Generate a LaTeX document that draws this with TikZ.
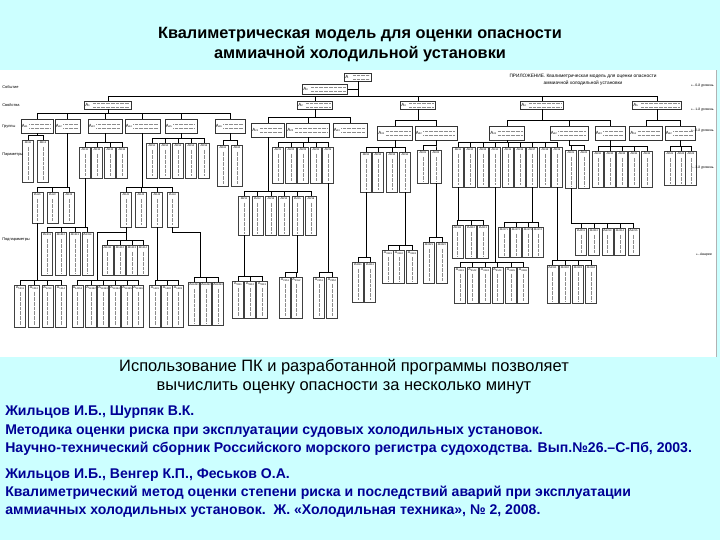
\documentclass[tikz,border=0pt]{standalone}
\usepackage{fontspec}
\setmainfont{Liberation Sans}
\usepackage{tikz}
\usetikzlibrary{calc,positioning}
\definecolor{slidecyan}{RGB}{204,255,255}
\definecolor{refblue}{RGB}{0,0,150}

\newcommand{\lowidx}[1]{\raisebox{-0.35pt}{\fontsize{1.8}{2}\selectfont#1}}
\newcommand{\smallarrow}{\scalebox{0.45}{$\leftarrow$}}

\tikzset{
  wire/.style={line width=0.6pt},
  bus/.style={to path={|- ($(\tikztotarget)+(0,-#1)$) -- (\tikztotarget)}},
  bus/.default=5,
  midbox/.style={draw=black!80,line width=0.3pt,fill=white,minimum height=14*0.025cm,
    path picture={\foreach \k in {-1.4,1.4}{\draw[black!45,line width=0.4pt,dash pattern=on 0.5pt off 0.4pt]
      ([xshift=6pt,yshift=\k pt]path picture bounding box.west) -- ([xshift=-1.5pt,yshift=\k pt]path picture bounding box.east);}}},
  midlbl/.style={anchor=west,inner sep=0.6pt,font=\fontsize{3.2}{3.5}\selectfont},
  leaf/.style={draw=black!75,line width=0.3pt,fill=white,anchor=north,minimum width=0.27cm,
    path picture={\draw[black!45,line width=0.4pt,dash pattern=on 0.5pt off 0.4pt]
      ([yshift=-4.5pt]path picture bounding box.north) -- ([yshift=1.5pt]path picture bounding box.south);}},
  leaflbl/.style={anchor=north,inner sep=0.5pt,font=\fontsize{2.6}{3}\selectfont},
  lvl/.style={font=\fontsize{2.8}{3.2}\selectfont},
  rlvl/.style={font=\fontsize{2.4}{3}\selectfont,anchor=east},
  refs/.style={font=\bfseries\fontsize{10}{13.1}\selectfont,text=refblue,align=left,anchor=west}
}

% box of the second level: digits, x, y, width
\newcommand{\midbox}[4]{%
  \node[midbox,minimum width=#4*0.025cm,label={[midlbl]west:A\lowidx{#1}}] (a#1) at (#2,#3) {};}
% row of leaf boxes: digits, parent, top, height, x list
\newcommand{\leafrow}[5]{%
  \foreach \x [count=\i] in {#5}{%
    \node[leaf,minimum height=#4*0.025cm,label={[leaflbl]north:A\lowidx{#1\i}}] (a#1\i) at (\x,#3) {};
    \draw[wire] (#2) to[bus] (a#1\i.north);
  }}

\begin{document}
\begin{tikzpicture}[x=0.025cm,y=-0.025cm,every node/.style={inner sep=0pt}]
\useasboundingbox (0,0) rectangle (720,540);
\fill[slidecyan] (0,0) rectangle (720,540);
\fill[white] (0,70) rectangle (716,357);
\draw[black!30,line width=0.4pt] (716,70) -- (716,357);

\node[font=\bfseries\fontsize{11.6}{14.2}\selectfont,align=center] (title) at (360,45)
  {Квалиметрическая модель для оценки опасности\\аммиачной холодильной установки};

% top of the tree
\node[midbox,minimum width=27*0.025cm,minimum height=8*0.025cm,label={[midlbl]west:A}] (root) at (358,77) {};
\node[midbox,minimum width=45*0.025cm,minimum height=10*0.025cm,label={[midlbl]west:A\lowidx{0}}] (a0) at (325,89) {};
\draw[wire] (a0.east) -- (a0.east -| root.south);
\node[font=\fontsize{3.4}{4.6}\selectfont,align=center] (hdr) at (583,80)
  {ПРИЛОЖЕНИЕ. Квалиметрическая модель для оценки опасности\\аммиачной холодильной установки};

% first level
\foreach \k/\x/\w in {1/108/47,2/315/35,3/418/35,4/542/43,5/657/49}{
  \node[midbox,minimum width=\w*0.025cm,minimum height=8*0.025cm,label={[midlbl]west:A\lowidx{\k}}] (a\k) at (\x,105) {};
  \draw[wire] (root.south) to[bus=4] (a\k.north);
}

% second level
\midbox{11}{37}{126}{32}
\midbox{12}{67.5}{126}{25}
\midbox{13}{105}{126}{34}
\midbox{14}{142.5}{126}{35}
\midbox{15}{181}{126}{32}
\midbox{16}{230}{126}{30}
\midbox{21}{268}{130}{33}
\midbox{22}{308}{130}{43}
\midbox{23}{350}{130}{34}
\midbox{31}{395}{133}{35}
\midbox{32}{436}{133}{42}
\midbox{41}{507}{133}{35}
\midbox{42}{569}{133}{38}
\midbox{43}{610}{133}{30}
\midbox{51}{646}{133}{33}
\midbox{52}{680}{133}{30}
\foreach \p/\c in {1/11,1/12,1/13,1/14,1/15,1/16,2/21,2/22,2/23,3/31,3/32,4/41,4/42,4/43,5/51,5/52}
  \draw[wire] (a\p.south) to[bus] (a\c.north);

% third level
\leafrow{11}{a11.south}{140}{42}{28,43}
\leafrow{13}{a13.south}{147}{31}{85,97,110,122}
\leafrow{15}{a15.south}{143}{35}{152,165,178,191,204}
\leafrow{16}{a16.south}{145}{41}{223,237}
\leafrow{22}{a22.south}{147}{36}{278,291,303,316,328}
\leafrow{31}{a31.south}{152}{40}{366,378,392,405}
\leafrow{32}{a32.south}{150}{33}{423,436}
\leafrow{41}{a41.south}{147}{40}{458,470,483,495,508,520,532,545,557}
\leafrow{42}{a42.south}{150}{38}{571,584}
\leafrow{43}{a43.south}{151}{36}{598,610,622,634,647}
\leafrow{52}{a52.south}{151}{34}{670,681,691}

% fourth level
\leafrow{12}{a12.south}{192}{31}{37.5,52.5,69}
\leafrow{14}{a14.south}{192}{35}{126,141,157,172.5}
\leafrow{131}{a131.south}{232}{43}{47,61,75,87.5}
\leafrow{21}{a21.south}{196}{39}{244,257.5,271,284,297.5,311}
\leafrow{311}{a311.south}{262}{40}{358,370}
\leafrow{314}{a314.south}{250}{33}{388,399,412}
\leafrow{322}{a322.south}{242}{41}{429,442}
\leafrow{411}{a411.south}{225}{33}{457.5,471,483}
\leafrow{417}{a417.south}{227}{30}{504,516,528,538}
\leafrow{414}{a414.south}{267}{36}{460,472.5,485,497.5,511,523}
\leafrow{419}{a419.south}{265}{38}{552.5,565,578,591}
\leafrow{421}{a421.south}{228}{27}{581,594,607.5,620,633.5}

% fifth level
\leafrow{121}{a121.south}{285}{42}{20,34,47.5,61}
\leafrow{141}{a141.south}{245}{30}{107.5,120,132,143}
\coordinate (k1) at (97,232);
\draw[wire] (a141.south) |- (k1);
\leafrow{1415}{k1}{285}{42}{77.5,91,103,115,127,138}
\leafrow{143}{a143.south}{285}{42}{155,167,178}
\coordinate (k2) at (200,232);
\draw[wire] (a144.south) |- (k2);
\leafrow{1445}{k2}{282}{43}{194,206,218}
\leafrow{211}{a211.south}{281}{37}{238,250,262}
\leafrow{215}{a215.south}{277}{41}{285,296.5}
\leafrow{225}{a225.south}{277}{41}{319,332}

% level captions
\node[lvl,anchor=west] (lv0) at (2,87) {Событие};
\node[lvl,anchor=west] (lv1) at (2,105) {Свойства};
\node[lvl,anchor=west] (lv2) at (2,127) {Группы};
\node[lvl,anchor=west] (lv3) at (2,155) {Параметры};
\node[lvl,anchor=west] (lv4) at (2,240) {Подпараметры};
\node[rlvl] (rv0) at (714,86) {\smallarrow0-й уровень};
\node[rlvl] (rv1) at (714,110) {\smallarrow1-й уровень};
\node[rlvl] (rv2) at (714,131) {\smallarrow2-й уровень};
\node[rlvl] (rv3) at (714,168) {\smallarrow3-й уровень};
\node[rlvl] (rv4) at (712,255) {\smallarrow Аварии};

% bottom texts
\node[font=\fontsize{11.7}{13.5}\selectfont,align=center] (usage) at (344,377)
  {Использование ПК и разработанной программы позволяет\\вычислить оценку опасности за несколько минут};
\node[refs] (ref1) at (5,431) {Жильцов И.Б., Шурпяк В.К.\\Методика оценки риска при эксплуатации судовых холодильных установок.\\Научно-технический сборник Российского морского регистра судоходства. Вып.№26.–С-Пб, 2003.};
\node[refs] (ref2) at (5,493) {Жильцов И.Б., Венгер К.П., Феськов О.А.\\Квалиметрический метод оценки степени риска и последствий аварий при эксплуатации\\аммиачных холодильных установок.\ \ Ж. «Холодильная техника», № 2, 2008.};
\end{tikzpicture}
\end{document}
